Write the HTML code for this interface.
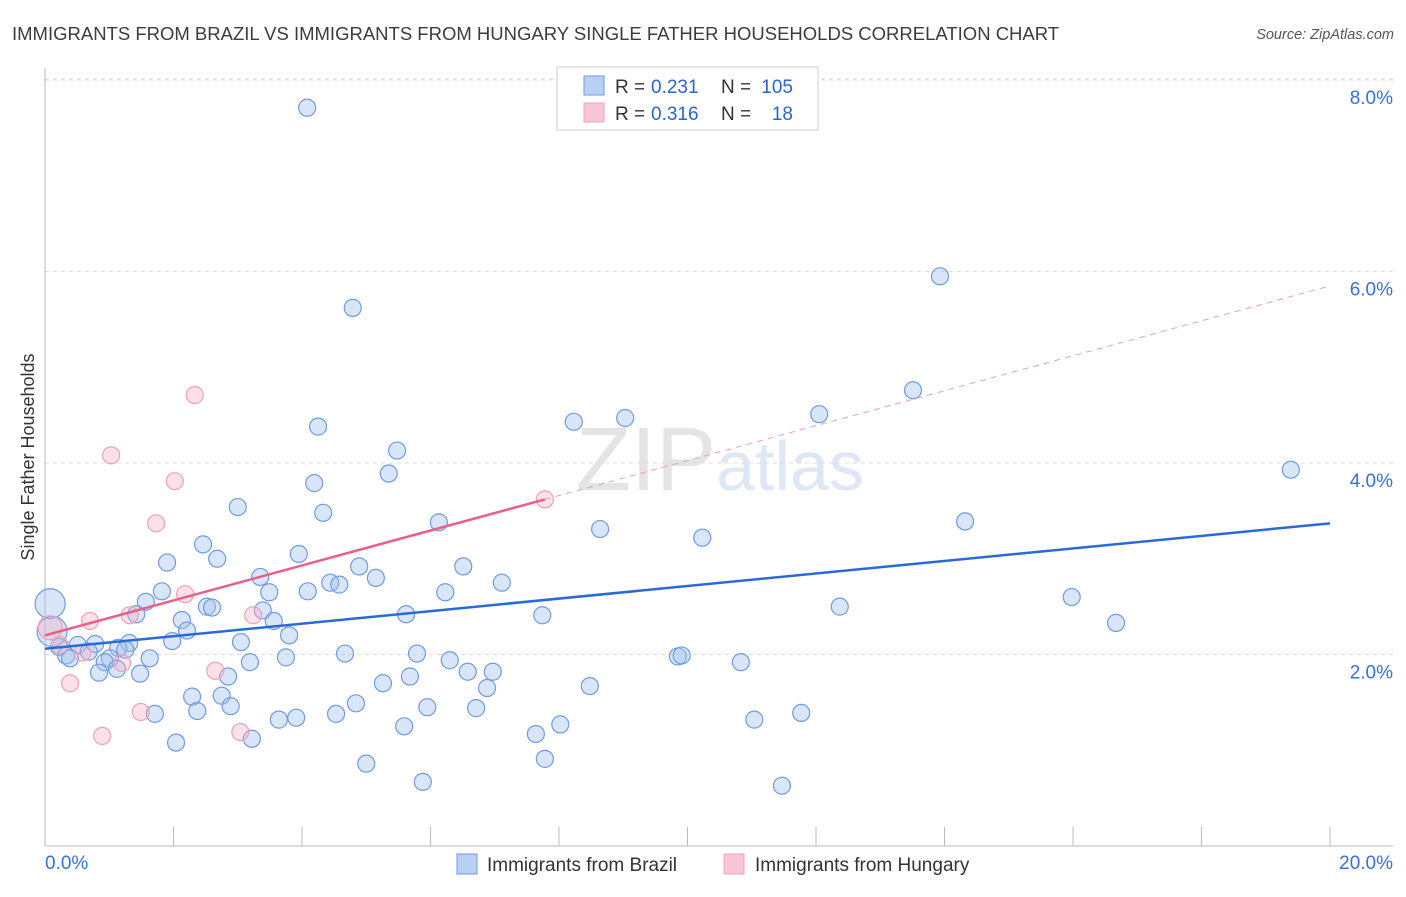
<!DOCTYPE html>
<html><head><meta charset="utf-8"><style>
body{margin:0;background:#fff;font-family:"Liberation Sans",sans-serif;}
svg text{font-family:"Liberation Sans",sans-serif;}
</style></head><body>
<svg id="chart" width="1406" height="892" xmlns="http://www.w3.org/2000/svg">
<text x="12" y="40" font-size="18.5" fill="#3c3c3c">IMMIGRANTS FROM BRAZIL VS IMMIGRANTS FROM HUNGARY SINGLE FATHER HOUSEHOLDS CORRELATION CHART</text>
<text x="1394" y="39" font-size="14.5" font-style="italic" fill="#555" text-anchor="end">Source: ZipAtlas.com</text>
<text transform="translate(34,457) rotate(-90)" font-size="18" fill="#333" text-anchor="middle">Single Father Households</text>
<text x="720" y="490" font-size="90" fill="#e4e4e4" text-anchor="middle" font-family="Liberation Serif">ZIP<tspan fill="#dde7f5" font-family="Liberation Sans" font-size="70">atlas</tspan></text>
<g id="grid"></g><g id="axes"></g><g id="pts"></g><g id="lines"></g>
<g>
<rect x="557" y="67" width="261" height="63" fill="#fff" stroke="#ccc"/>
<rect x="584" y="76" width="20" height="19" fill="#b8d0f4" stroke="#6f9be0"/>
<text x="615" y="93" font-size="19" fill="#333">R =</text>
<text x="651" y="93" font-size="19" fill="#2a64d0">0.231</text>
<text x="721" y="93" font-size="19" fill="#333">N =</text>
<text x="793" y="93" font-size="19" fill="#2a64d0" text-anchor="end">105</text>
<rect x="584" y="103" width="20" height="19" fill="#f8c6d4" stroke="#f0a0b8"/>
<text x="615" y="120" font-size="19" fill="#333">R =</text>
<text x="651" y="120" font-size="19" fill="#2a64d0">0.316</text>
<text x="721" y="120" font-size="19" fill="#333">N =</text>
<text x="793" y="120" font-size="19" fill="#2a64d0" text-anchor="end">18</text>
</g>
<g>
<rect x="457" y="854" width="20" height="20" fill="#b8d0f4" stroke="#6f9be0"/>
<text x="487" y="871" font-size="19" fill="#333">Immigrants from Brazil</text>
<rect x="724" y="854" width="20" height="20" fill="#f8c6d4" stroke="#f0a0b8"/>
<text x="755" y="871" font-size="19" fill="#333">Immigrants from Hungary</text>
</g>
</svg>
<script>
const xTicks=[0,2,4,6,8,10,12,14,16,18,20];
const yTicks=[2,4,6,8];
const yTickLabels=["2.0%","4.0%","6.0%","8.0%"];
const brazilX=[4.08,13.93,4.79,13.51,9.03,8.23,12.05,4.25,19.39,5.48,5.35,4.19,3.00,4.33,6.13,14.32,8.64,10.23,2.46,3.95,2.68,1.90,4.89,6.51,3.35,5.15,7.11,4.44,4.58,1.82,3.49,4.09,6.23,15.98,1.57,2.52,2.60,3.39,12.37,5.62,7.74,1.42,3.56,2.13,16.67,2.21,3.80,3.05,1.98,1.31,0.78,0.51,0.22,1.14,1.25,0.33,0.68,0.39,1.01,4.67,5.79,1.63,3.75,9.85,9.91,10.83,3.19,6.30,0.93,6.58,6.97,1.12,0.84,1.48,2.85,5.68,5.26,6.88,8.48,2.29,2.75,4.84,2.89,5.95,6.71,2.37,1.71,4.53,11.77,3.64,3.91,11.04,8.02,5.59,7.64,2.04,3.22,7.78,5.00,5.88,11.47,0.08,0.11];
const brazilY=[7.71,5.95,5.62,4.76,4.47,4.43,4.51,4.38,3.93,4.13,3.89,3.79,3.54,3.48,3.38,3.39,3.31,3.22,3.15,3.05,3.00,2.96,2.92,2.92,2.81,2.80,2.75,2.75,2.73,2.66,2.65,2.66,2.65,2.60,2.55,2.50,2.49,2.46,2.50,2.42,2.41,2.42,2.35,2.36,2.33,2.25,2.20,2.13,2.14,2.12,2.11,2.10,2.08,2.07,2.05,1.99,2.03,1.96,1.96,2.01,2.01,1.96,1.97,1.98,1.99,1.92,1.92,1.94,1.92,1.82,1.82,1.85,1.81,1.80,1.77,1.77,1.70,1.65,1.67,1.56,1.57,1.49,1.46,1.45,1.44,1.41,1.38,1.38,1.39,1.32,1.34,1.32,1.27,1.25,1.17,1.08,1.12,0.91,0.86,0.67,0.63,2.53,2.24];
const hungaryX=[2.33,1.03,2.02,1.73,7.78,2.18,0.70,1.32,3.24,0.08,0.23,0.58,1.20,2.65,0.39,1.49,0.89,3.04];
const hungaryY=[4.71,4.08,3.81,3.37,3.62,2.63,2.35,2.41,2.41,2.28,2.10,2.02,1.91,1.83,1.70,1.40,1.15,1.19];
const brazilFit=[2.06,0.0655];
const hungaryFit=[2.20,0.1825];
const hungarySolidEnd=7.78;

(function(){
const NS="http://www.w3.org/2000/svg";
const sx=v=>45+v*64.25, sy=v=>846-v*95.75;
function mk(tag,attrs,parent){const e=document.createElementNS(NS,tag);for(const k in attrs)e.setAttribute(k,attrs[k]);document.getElementById(parent).appendChild(e);return e;}
yTicks.forEach((t,i)=>{
 const g=mk('line',{x1:45,x2:1393,y1:sy(t),y2:sy(t),stroke:'#ddd','stroke-dasharray':'4,4'},'grid');
 
 
 const l=mk('text',{x:1393,y:sy(t)+24,'font-size':19,fill:'#3a6fd8','text-anchor':'end'},'grid');
 
 
 l.textContent=yTickLabels[i];
});
const topLine=mk('line',{x1:45,x2:1393,y1:79,y2:79,stroke:'#ddd','stroke-dasharray':'4,4'},'grid');


const ya=mk('line',{x1:45,x2:45,y1:68,y2:846,stroke:'#bbb'},'axes');


const xa=mk('line',{x1:45,x2:1393,y1:846,y2:846,stroke:'#bbb'},'axes');


xTicks.forEach(t=>{const k=mk('line',{x1:sx(t),x2:sx(t),y1:827,y2:846,stroke:'#bbb'},'axes');
 
 });
const xl0=mk('text',{x:45,y:869,'font-size':19,fill:'#3a6fd8'},'axes');


xl0.textContent=xTicks[0].toFixed(1)+'%';
const xl1=mk('text',{x:1393,y:869,'font-size':19,fill:'#3a6fd8','text-anchor':'end'},'axes');


xl1.textContent=xTicks[xTicks.length-1].toFixed(1)+'%';
brazilX.forEach((x,i)=>{const big=i>=brazilX.length-2;const c=mk('circle',{cx:sx(x),cy:sy(brazilY[i]),r:big?15:8.5,fill:'rgba(160,192,240,0.4)',stroke:'#6f9be0','stroke-width':1.2},'pts');
 
 });
hungaryX.forEach((x,i)=>{const c=mk('circle',{cx:sx(x),cy:sy(hungaryY[i]),r:i==9?12:8.5,fill:'rgba(245,170,192,0.35)',stroke:'#f0a0b8','stroke-width':1.2},'pts');
 
 });
const bl=mk('line',{x1:sx(0),y1:sy(brazilFit[0]),x2:sx(20),y2:sy(brazilFit[0]+20*brazilFit[1]),stroke:'#2a6ad8','stroke-width':2.5},'lines');


const hl=mk('line',{x1:sx(0),y1:sy(hungaryFit[0]),x2:sx(hungarySolidEnd),y2:sy(hungaryFit[0]+hungarySolidEnd*hungaryFit[1]),stroke:'#e8608a','stroke-width':2.5},'lines');


const hd=mk('line',{x1:sx(hungarySolidEnd),y1:sy(hungaryFit[0]+hungarySolidEnd*hungaryFit[1]),x2:sx(20),y2:sy(hungaryFit[0]+20*hungaryFit[1]),stroke:'#e8a0b8','stroke-width':1,'stroke-dasharray':'6,5'},'lines');


})();
</script>
</body></html>
